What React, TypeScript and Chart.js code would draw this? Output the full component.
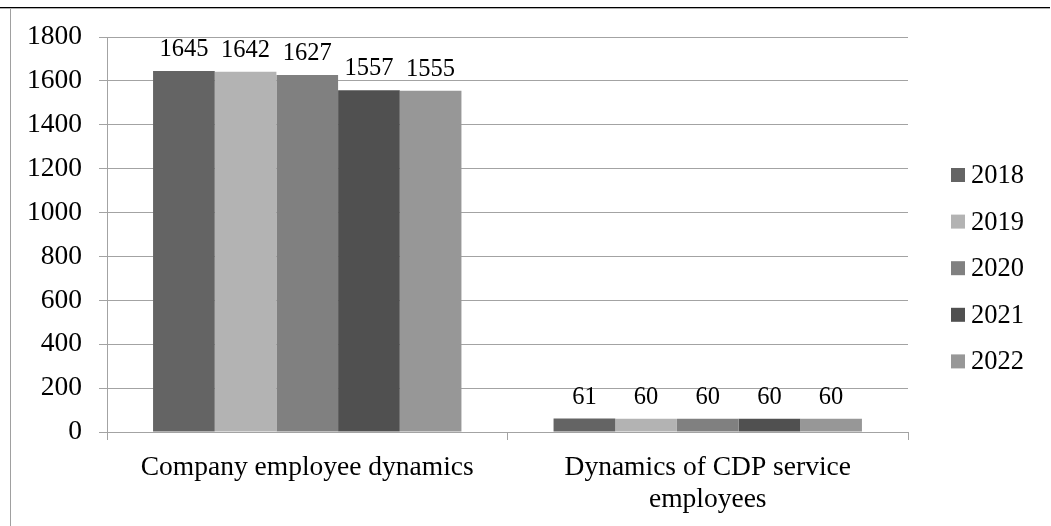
import React, { useEffect, useRef } from "react";
import { Chart, registerables } from "chart.js";

Chart.register(...registerables);

const categories: (string | string[])[] = [
  "Company employee dynamics",
  ["Dynamics of CDP service", "employees"],
];
const seriesNames = ["2018", "2019", "2020", "2021", "2022"];
const values2018 = [1645, 61];
const values2019 = [1642, 60];
const values2020 = [1627, 60];
const values2021 = [1557, 60];
const values2022 = [1555, 60];
const seriesValues = [values2018, values2019, values2020, values2021, values2022];
const seriesColors = ["#646464", "#b3b3b3", "#808080", "#505050", "#979797"];
const yTicks = [0, 200, 400, 600, 800, 1000, 1200, 1400, 1600, 1800];

const FONT = "'Liberation Serif', 'Times New Roman', serif";
const GRID = "#a3a3a3";

const dataLabelPlugin = {
  id: "dataLabels",
  afterDatasetsDraw(chart: any) {
    const ctx = chart.ctx;
    ctx.save();
    ctx.font = `24.5px ${FONT}`;
    ctx.fillStyle = "#000";
    ctx.textAlign = "center";
    ctx.textBaseline = "alphabetic";
    chart.data.datasets.forEach((ds: any, di: number) => {
      const meta = chart.getDatasetMeta(di);
      meta.data.forEach((bar: any, i: number) => {
        ctx.fillText(String(ds.data[i]), bar.x, bar.y - 15);
      });
    });
    ctx.restore();
  },
};

const legendPlugin = {
  id: "customLegend",
  afterDraw(chart: any) {
    const ctx = chart.ctx;
    ctx.save();
    ctx.font = `26.5px ${FONT}`;
    ctx.textAlign = "left";
    ctx.textBaseline = "middle";
    chart.data.datasets.forEach((ds: any, di: number) => {
      const cy = 175 + di * 46.6;
      ctx.fillStyle = ds.backgroundColor;
      ctx.fillRect(951, cy - 7, 14, 14);
      ctx.fillStyle = "#000";
      ctx.fillText(ds.label, 971, cy + 1);
    });
    ctx.restore();
  },
};

export default function App() {
  const ref = useRef<HTMLCanvasElement>(null);
  useEffect(() => {
    if (!ref.current) return;
    const chart = new Chart(ref.current, {
      type: "bar",
      data: {
        labels: categories,
        datasets: seriesNames.map((name, i) => ({
          label: name,
          data: seriesValues[i],
          backgroundColor: seriesColors[i],
          borderWidth: 0,
          categoryPercentage: 0.77,
          barPercentage: 1,
        })),
      },
      options: {
        animation: false,
        responsive: false,
        maintainAspectRatio: false,
        layout: { padding: { top: 37, right: 143, bottom: 0, left: 0 } },
        plugins: {
          legend: { display: false },
          tooltip: { enabled: false },
        },
        scales: {
          x: {
            offset: true,
            grid: {
              display: true,
              drawOnChartArea: false,
              drawTicks: true,
              tickLength: 8,
              color: GRID,
              offset: true,
            },
            border: { display: true, color: GRID },
            ticks: {
              color: "#000",
              font: { family: FONT, size: 27.5, lineHeight: 1.15 },
              padding: 12,
              maxRotation: 0,
              minRotation: 0,
              autoSkip: false,
            },
            afterFit: (scale: any) => {
              scale.height = 94;
            },
          },
          y: {
            min: 0,
            max: 1800,
            afterBuildTicks: (scale: any) => {
              scale.ticks = yTicks.map((v) => ({ value: v }));
            },
            grid: {
              color: GRID,
              tickLength: 8,
              drawTicks: true,
            },
            border: { display: true, color: GRID },
            ticks: {
              color: "#000",
              font: { family: FONT, size: 27.5 },
              padding: 17,
              callback: (v: any) => String(v),
            },
            afterFit: (scale: any) => {
              scale.width = 107;
            },
          },
        },
      },
      plugins: [dataLabelPlugin, legendPlugin],
    });
    return () => chart.destroy();
  }, []);

  return (
    <div style={{ position: "fixed", left: 0, top: 0, width: 1051, height: 526, background: "#fff" }}>
      <div style={{ position: "absolute", left: 0, top: 7, width: 1050, height: 1, background: "#000" }} />
      <div style={{ position: "absolute", left: 0, top: 8, width: 1050, height: 1, background: "#b0b0b0" }} />
      <div style={{ position: "absolute", left: 10, top: 9, width: 1, height: 517, background: "#a0a0a0" }} />
      <canvas ref={ref} width={1051} height={526} style={{ position: "absolute", left: 0, top: 0, width: 1051, height: 526 }} />
    </div>
  );
}
